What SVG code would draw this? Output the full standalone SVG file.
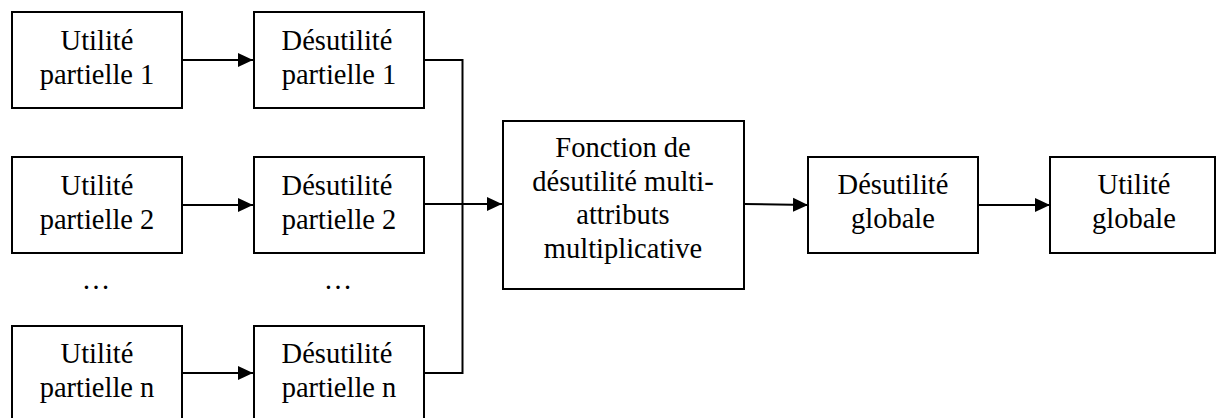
<svg xmlns="http://www.w3.org/2000/svg" width="1217" height="418" viewBox="0 0 1217 418">
<style>
.box{fill:#fff;stroke:#000;stroke-width:2}
.t{font-family:'Liberation Serif','Times New Roman',serif;font-size:28.5px;fill:#000;text-anchor:middle}
.c{fill:none;stroke:#000;stroke-width:2}
</style>
<defs>
<marker id="ah" markerUnits="userSpaceOnUse" markerWidth="16" markerHeight="16" viewBox="0 0 16 16" refX="15" refY="8" orient="auto">
<path d="M0,1 L15,8 L0,15 z" fill="#000"/>
</marker>
</defs>
<rect width="1217" height="418" fill="#fff"/>
<g id="connectors">
<line class="c" x1="182" y1="60" x2="253" y2="60" marker-end="url(#ah)"/>
<line class="c" x1="182" y1="205" x2="253" y2="205" marker-end="url(#ah)"/>
<line class="c" x1="182" y1="373" x2="253" y2="373" marker-end="url(#ah)"/>
<polyline class="c" points="424,60 462.5,60 462.5,373 424,373"/>
<line class="c" x1="424" y1="204" x2="502" y2="204" marker-end="url(#ah)"/>
<line class="c" x1="744" y1="204" x2="808" y2="205" marker-end="url(#ah)"/>
<line class="c" x1="978" y1="205" x2="1050" y2="205" marker-end="url(#ah)"/>
</g>
<g id="u1"><rect class="box" x="12" y="12" width="170" height="96"/><text class="t" x="97" y="50">Utilité</text><text class="t" x="97" y="84">partielle 1</text></g>
<g id="d1"><rect class="box" x="254" y="12" width="170" height="96"/><text class="t" x="337" y="50">Désutilité</text><text class="t" x="339" y="84">partielle 1</text></g>
<g id="u2"><rect class="box" x="12" y="157" width="170" height="96"/><text class="t" x="97" y="195">Utilité</text><text class="t" x="97" y="229">partielle 2</text></g>
<g id="d2"><rect class="box" x="254" y="157" width="170" height="96"/><text class="t" x="337" y="195">Désutilité</text><text class="t" x="339" y="229">partielle 2</text></g>
<g id="dots1"><text class="t" x="96" y="289">…</text></g>
<g id="dots2"><text class="t" x="338" y="289">…</text></g>
<g id="un"><rect class="box" x="12" y="326" width="170" height="100"/><text class="t" x="97" y="363">Utilité</text><text class="t" x="97" y="397">partielle n</text></g>
<g id="dn"><rect class="box" x="254" y="326" width="170" height="100"/><text class="t" x="337" y="363">Désutilité</text><text class="t" x="339" y="397">partielle n</text></g>
<g id="fn"><rect class="box" x="503" y="121" width="241" height="168"/><text class="t" x="623" y="157">Fonction de</text><text class="t" x="623" y="191">désutilité multi-</text><text class="t" x="623" y="224">attributs</text><text class="t" x="623" y="258">multiplicative</text></g>
<g id="dg"><rect class="box" x="808" y="157" width="170" height="96"/><text class="t" x="893" y="194">Désutilité</text><text class="t" x="893" y="228">globale</text></g>
<g id="ug"><rect class="box" x="1050" y="157" width="165" height="96"/><text class="t" x="1134" y="194">Utilité</text><text class="t" x="1134" y="228">globale</text></g>
</svg>
